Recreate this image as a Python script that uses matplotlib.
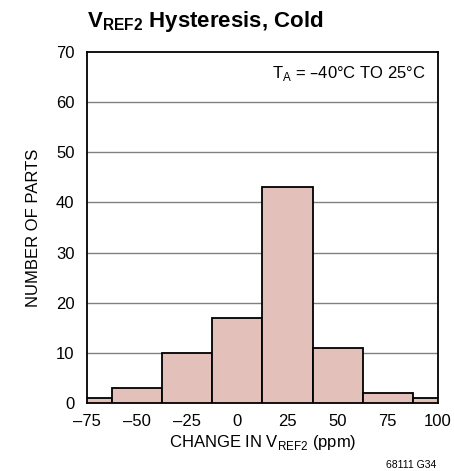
import numpy as np
import matplotlib
matplotlib.use('Agg')
import matplotlib.pyplot as plt

plt.rcParams['font.family'] = ['Liberation Sans Narrow', 'Liberation Sans', 'DejaVu Sans']

# histogram data
bin_edges = [-75, -62.5, -37.5, -12.5, 12.5, 37.5, 62.5, 87.5, 100]
counts = [1, 3, 10, 17, 43, 11, 2, 1]
x_ticks = [-75, -50, -25, 0, 25, 50, 75, 100]
y_ticks = [0, 10, 20, 30, 40, 50, 60, 70]

fig = plt.figure(figsize=(4.54, 4.71), dpi=100)
ax = fig.add_axes([0.1916, 0.1444, 0.773, 0.745])

lefts = np.array(bin_edges[:-1])
widths = np.diff(bin_edges)
ax.bar(lefts, counts, width=widths, align='edge', color='#e3c0ba',
       edgecolor='black', linewidth=1.3, zorder=3)

for y in y_ticks[1:-1]:
    ax.axhline(y, color='#808080', linewidth=1.0, zorder=1)

ax.set_xlim(-75, 100)
ax.set_ylim(0, 70)
ax.set_xticks(x_ticks)
ax.set_xticklabels([str(t).replace('-', '\u2013') for t in x_ticks])
ax.set_yticks(y_ticks)
ax.tick_params(length=0, labelsize=12)
ax.tick_params(axis='x', pad=8)
ax.tick_params(axis='y', pad=9)
for s in ax.spines.values():
    s.set_linewidth(1.3)

ax.set_xlabel('CHANGE IN V$_{\\mathregular{REF2}}$ (ppm)', fontsize=12, labelpad=3)
ax.set_ylabel('NUMBER OF PARTS', fontsize=12, labelpad=11)

ax.text(0.965, 0.94, 'T$_{\\mathregular{A}}$ = \u201340\u00b0C TO 25\u00b0C',
        transform=ax.transAxes, ha='right', va='center', fontsize=12)

fig.text(0.192, 0.955, 'V$_{\\mathregular{REF2}}$ Hysteresis, Cold',
         ha='left', va='center', fontsize=16, fontweight='bold')
fig.text(0.962, 0.013, '68111 G34', ha='right', va='center', fontsize=7.5)

fig.savefig('out.png', dpi=100)
